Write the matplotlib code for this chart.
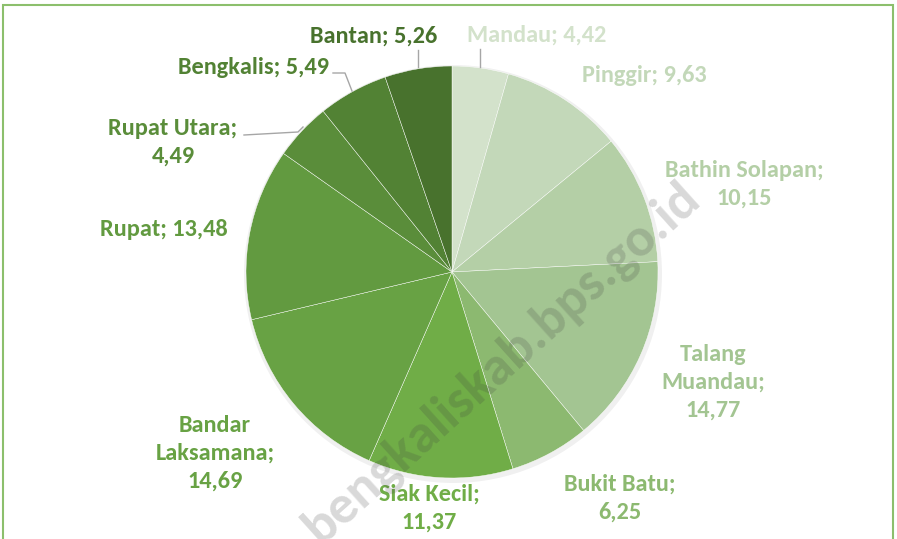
import matplotlib

matplotlib.use("Agg")
import matplotlib.pyplot as plt
from matplotlib.patches import Rectangle

# Share per kecamatan, clockwise from 12 o'clock
names = ["Mandau", "Pinggir", "Bathin Solapan", "Talang Muandau", "Bukit Batu",
         "Siak Kecil", "Bandar Laksamana", "Rupat", "Rupat Utara", "Bengkalis", "Bantan"]
values = [4.42, 9.63, 10.15, 14.77, 6.25, 11.37, 14.69, 13.48, 4.49, 5.49, 5.26]
colors = ["#d3e2cb", "#c3d8b9", "#b4cfa6", "#a3c592", "#8cb970", "#70ad47",
          "#68a244", "#629a40", "#5a8d3a", "#528234", "#48722d"]
# how each label is broken over lines
label_lines = [
    "{n}; {v}", "{n}; {v}", "Bathin Solapan;\n{v}", "Talang\nMuandau;\n{v}",
    "Bukit Batu;\n{v}", "Siak Kecil;\n{v}", "Bandar\nLaksamana;\n{v}",
    "{n}; {v}", "Rupat Utara;\n{v}", "{n}; {v}", "{n}; {v}",
]

FONT = ["Carlito", "Open Sans"]

W, H = 897, 539
fig = plt.figure(figsize=(W / 100, H / 100), dpi=100)
ax = fig.add_axes([0, 0, 1, 1])

# chart frame (bottom edge falls outside the crop)
ax.add_patch(Rectangle((3, -20), 890, H - 5 + 20, fill=False,
                       edgecolor="#8cbf6c", linewidth=1.5))

cx, cy, r = 452, H - 272, 206
# faint drop shadow
shadow = plt.Circle((cx + 1, cy - 2), r + 3, color="#000000", alpha=0.06, lw=0)
ax.add_patch(shadow)
ax.pie(values, colors=colors, startangle=90, counterclock=False,
       radius=r, center=(cx, cy), frame=True,
       wedgeprops={"edgecolor": "#ffffff", "linewidth": 0.3})
ax.set_xlim(0, W)
ax.set_ylim(0, H)
ax.set_aspect("equal")
ax.axis("off")

# label anchor points (pixels from top-left)
label_pos = [(537, 35), (644, 75), (744, 184), (713, 382), (620, 498),
             (429, 508), (215, 453), (164, 229), (173, 142), (253, 67), (374, 36)]

for name, val, col, fmt, (lx, ly) in zip(names, values, colors, label_lines, label_pos):
    txt = fmt.format(n=name, v=f"{val:.2f}".replace(".", ","))
    ax.text(lx, H - ly, txt, ha="center", va="center", color=col,
            fontsize=17.5, fontweight="bold", family=FONT, linespacing=1.4)

# leader lines
lc = "#a6a6a6"
ax.plot([480, 480], [H - 49, H - 67], color=lc, lw=1)
ax.plot([418, 418], [H - 50, H - 67], color=lc, lw=1)
ax.plot([333, 345, 352], [H - 73, H - 73, H - 91], color=lc, lw=1)
ax.plot([244, 298, 303], [H - 135, H - 132, H - 127], color=lc, lw=1)

# watermark
ax.text(502, H - 362, "bengkaliskab.bps.go.id", rotation=42, ha="center", va="center",
        fontsize=39, fontweight="bold", family=FONT, color="#404040", alpha=0.2)

fig.savefig("out.png", dpi=100)
plt.close(fig)
